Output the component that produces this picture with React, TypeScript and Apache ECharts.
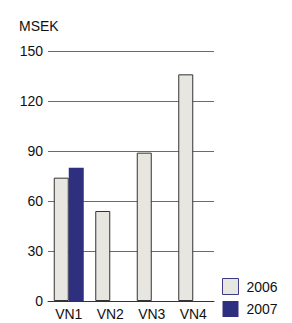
import React, { useEffect, useRef } from "react";
import * as echarts from "echarts";

const categories = ["VN1", "VN2", "VN3", "VN4"];
const values2006 = [74, 54, 89, 136];
const values2007: (number | null)[] = [80, null, null, null];
const yTicks = { min: 0, max: 150, interval: 30 };

export default function App() {
  const ref = useRef<HTMLDivElement>(null);
  useEffect(() => {
    const chart = echarts.init(ref.current!, undefined, { renderer: "svg" });
    const font = "'Liberation Sans', Arial, sans-serif";
    chart.setOption({
      animation: false,
      textStyle: { fontFamily: font },
      title: {
        text: "MSEK",
        left: 14,
        top: 14,
        textStyle: { fontSize: 14, fontWeight: "normal", color: "#111", fontFamily: font },
      },
      legend: {
        orient: "vertical",
        left: 222,
        top: 278,
        padding: 0,
        itemWidth: 16,
        itemHeight: 16,
        itemGap: 6,
        textStyle: { fontSize: 14, color: "#111", fontFamily: font, padding: [0, 0, 0, 3] },
        data: [
          { name: "2006", icon: "rect", itemStyle: { color: "#e8e6e1", borderColor: "#3d3b85", borderWidth: 1 } },
          { name: "2007", icon: "rect", itemStyle: { color: "#2e2f7f", borderWidth: 0 } },
        ],
      },
      grid: { left: 48, right: 78, top: 51, bottom: 22, containLabel: false },
      xAxis: {
        type: "category",
        data: categories,
        axisLine: { lineStyle: { color: "#333", width: 1 } },
        axisTick: { show: false },
        axisLabel: { color: "#111", fontSize: 14, margin: 6, fontFamily: font },
      },
      yAxis: {
        type: "value",
        min: yTicks.min,
        max: yTicks.max,
        interval: yTicks.interval,
        axisLine: { show: false },
        axisTick: { show: false },
        splitLine: { lineStyle: { color: "#6b6b6b", width: 1 } },
        axisLabel: { color: "#111", fontSize: 14, margin: 5, padding: [0, 0, 6, 0], fontFamily: font },
      },
      series: [
        {
          name: "2006",
          type: "bar",
          data: values2006,
          barWidth: 15,
          barGap: "0%",
          itemStyle: { color: "#e8e6e1", borderColor: "#333", borderWidth: 1 },
        },
        {
          name: "2007",
          type: "bar",
          data: values2007,
          barWidth: 15,
          barGap: "0%",
          itemStyle: { color: "#2e2f7f" },
        },
      ],
    });
    return () => chart.dispose();
  }, []);
  return <div ref={ref} style={{ position: "absolute", left: 0, top: 0, width: 292, height: 323 }} />;
}
